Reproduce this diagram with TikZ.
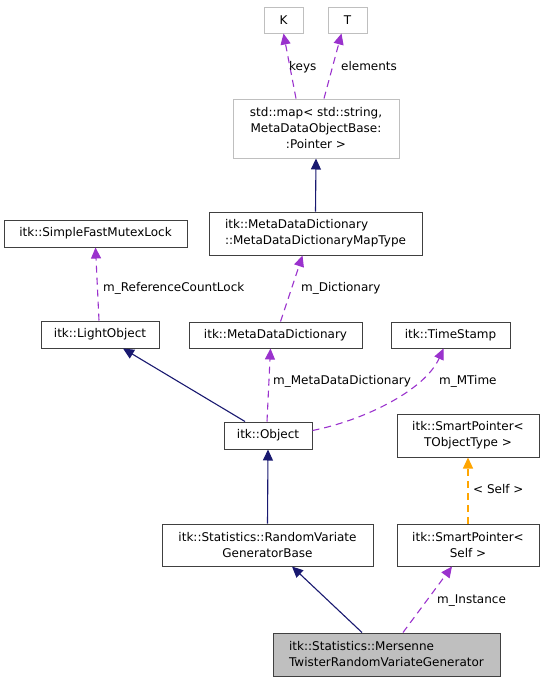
\documentclass[tikz,border=0pt]{standalone}
\usepackage{fontspec}
\setmainfont{DejaVu Sans}
\usepackage{xcolor}
\usepackage{tikz}
\usetikzlibrary{arrows.meta, positioning}
\definecolor{edgeblue}{HTML}{191970}
\definecolor{edgepurple}{HTML}{9A32CD}
\definecolor{edgeorange}{HTML}{FFA500}
\definecolor{boxgray}{HTML}{BFBFBF}

\begin{document}
\begin{tikzpicture}[x=1pt,y=-1pt]
\tikzstyle{cls}=[draw=black!75,line width=1pt,inner sep=0pt,font=\fontsize{12}{16}\selectfont]
\tikzstyle{tmpl}=[cls,draw=boxgray]
\tikzstyle{lbl}=[anchor=west,inner sep=0pt,text height=8pt,text depth=2pt,font=\fontsize{12}{16}\selectfont]
\tikzstyle{inherit}=[edgeblue,line width=1.1pt,-{Triangle[length=11pt,width=10pt]}]
\tikzstyle{usage}=[edgepurple,line width=1.1pt,dash pattern=on 7pt off 5pt,-{Triangle[length=11pt,width=10pt]}]
\tikzstyle{inst}=[usage,edgeorange]

\useasboundingbox (0,0) rectangle (544,683);

% template arguments and map type
\node[tmpl,minimum width=39pt,minimum height=26pt] (K) at (283.5,20) {K};
\node[tmpl,minimum width=39pt,minimum height=26pt] (T) at (347.5,20) {T};
\node[tmpl,minimum width=166pt,minimum height=59pt,align=center] (map) at (316,128.5)
  {std::map< std::string,\\ MetaDataObjectBase:\\:Pointer >};
\node[cls,minimum width=213pt,minimum height=43pt,align=left] (maptype) at (315.5,233.5)
  {itk::MetaDataDictionary\\::MetaDataDictionaryMapType};

% object hierarchy
\node[cls,minimum width=183pt,minimum height=27pt] (mutex) at (95.5,233.5) {itk::SimpleFastMutexLock};
\node[cls,minimum width=118pt,minimum height=27pt] (light) at (100,334.5) {itk::LightObject};
\node[cls,minimum width=173pt,minimum height=26pt] (dict) at (275.5,335) {itk::MetaDataDictionary};
\node[cls,minimum width=119pt,minimum height=26pt] (stamp) at (450.5,335) {itk::TimeStamp};
\node[cls,minimum width=88pt,minimum height=27pt] (object) at (268,435.5) {itk::Object};
\node[cls,minimum width=142pt,minimum height=43pt,align=center] (sptype) at (468,435.5)
  {itk::SmartPointer<\\TObjectType >};
\node[cls,minimum width=211pt,minimum height=42pt,align=center] (base) at (267.5,545)
  {itk::Statistics::RandomVariate\\GeneratorBase};
\node[cls,minimum width=142pt,minimum height=42pt,align=center] (spself) at (468,545)
  {itk::SmartPointer<\\Self >};
\node[cls,fill=boxgray,minimum width=227pt,minimum height=43pt,align=left] (mersenne) at (386.5,654.5)
  {itk::Statistics::Mersenne\\TwisterRandomVariateGenerator};

% edges
\draw[usage] ([xshift=-20pt]map.north) -- (K.south);
\draw[usage] ([xshift=8pt]map.north) -- ([xshift=-6pt]T.south);
\draw[inherit] (maptype.north) -- (map.south);
\draw[usage] ([xshift=-1pt]light.north) -- (mutex.south);
\draw[usage] ([xshift=5pt]dict.north) -- ([xshift=-13pt]maptype.south);
\draw[inherit] ([xshift=-23pt]object.north) -- ([xshift=23pt]light.south);
\draw[usage] ([xshift=-1pt]object.north) -- ([xshift=-5pt]dict.south);
\draw[usage] ([yshift=5pt]object.east) .. controls (365,420) and (425,390) .. ([xshift=-7pt]stamp.south);
\draw[inherit] (base.north) -- (object.south);
\draw[inst] (spself.north) -- (sptype.south);
\draw[inherit] ([xshift=-24.5pt]mersenne.north) -- ([xshift=24.5pt]base.south);
\draw[usage] ([xshift=16.5pt]mersenne.north) -- ([xshift=-16pt]spself.south);

% edge labels
\node[lbl] (keyslbl) at (289,67) {keys};
\node[lbl] (elemlbl) at (341,67) {elements};
\node[lbl] (locklbl) at (103,288) {m\_ReferenceCountLock};
\node[lbl] (dictlbl) at (301,288) {m\_Dictionary};
\node[lbl] (mdictlbl) at (273,381) {m\_MetaDataDictionary};
\node[lbl] (mtimelbl) at (439,381) {m\_MTime};
\node[lbl] (selflbl) at (473,490) {< Self >};
\node[lbl] (instlbl) at (437,600) {m\_Instance};

\end{tikzpicture}
\end{document}
